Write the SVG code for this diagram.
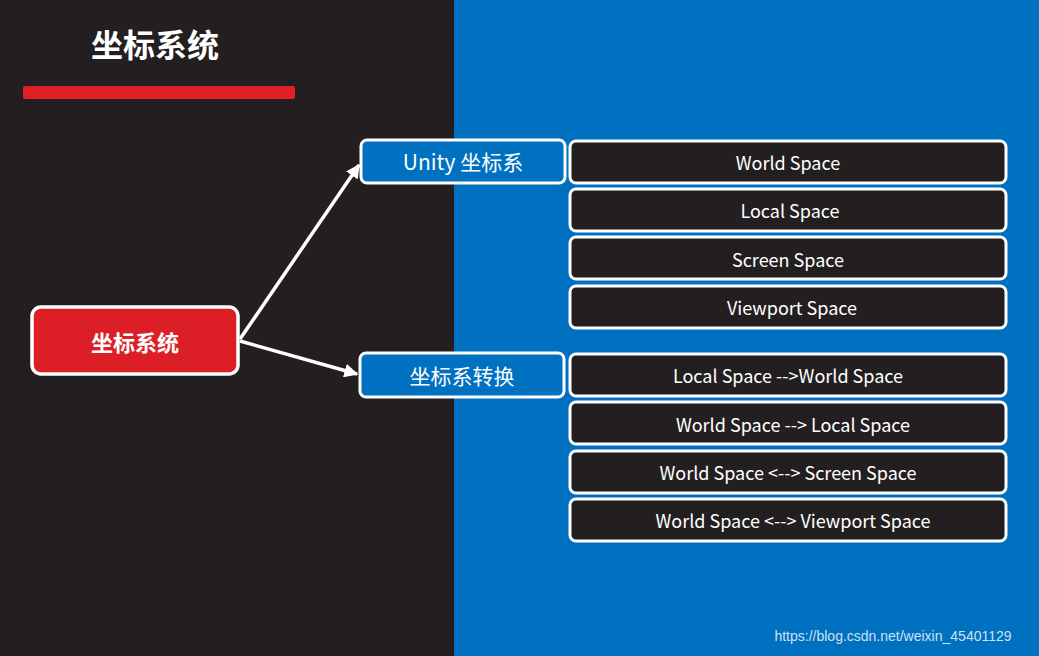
<svg xmlns="http://www.w3.org/2000/svg" width="1039" height="656" viewBox="0 0 1039 656">
<defs>
<style>
text{font-family:"Noto Sans CJK SC","Noto Sans",sans-serif;fill:#fff;text-anchor:middle;dominant-baseline:central}
.item rect{fill:#231F20;stroke:#fff;stroke-width:3}
.item text{font-size:18px}
.mid rect{fill:#0070C0;stroke:#fff;stroke-width:3}
.mid text{font-size:21px}
</style>
<marker id="ah" viewBox="0 0 10 10" refX="9" refY="5" markerWidth="4" markerHeight="4" orient="auto"><path d="M0,0L10,5L0,10z" fill="#fff"/></marker>
</defs>
<rect width="1039" height="656" fill="#231F20"/>
<rect x="454" width="585" height="656" fill="#0070C0"/>
<text x="155" y="43" style="font-size:32px;font-weight:bold">坐标系统</text>
<rect x="23" y="86" width="272" height="13" rx="2" fill="#E01E26"/>
<g id="connectors" stroke="#fff" stroke-width="3.5" fill="none">
<line x1="240" y1="339" x2="359" y2="165" marker-end="url(#ah)"/>
<line x1="240" y1="341" x2="357" y2="374" marker-end="url(#ah)"/>
</g>
<g id="root"><rect x="32" y="307" width="206" height="67" rx="9" fill="#DC1F26" stroke="#fff" stroke-width="3.5"/><text x="135" y="341" style="font-size:22px;font-weight:bold">坐标系统</text></g>
<g id="unity" class="mid"><rect x="361" y="140" width="204" height="43" rx="6"/><text x="463" y="161">Unity 坐标系</text></g>
<g id="convert" class="mid"><rect x="360" y="353" width="204" height="44" rx="6"/><text x="462" y="375">坐标系转换</text></g>
<g id="n1" class="item"><rect x="570" y="141" width="436" height="42" rx="6"/><text x="788" y="162">World Space</text></g>
<g id="n2" class="item"><rect x="570" y="189" width="436" height="42" rx="6"/><text x="790" y="210">Local Space</text></g>
<g id="n3" class="item"><rect x="570" y="237" width="436" height="42" rx="6"/><text x="788" y="259">Screen Space</text></g>
<g id="n4" class="item"><rect x="570" y="286" width="436" height="42" rx="6"/><text x="792" y="307">Viewport Space</text></g>
<g id="n5" class="item"><rect x="570" y="354" width="436" height="42" rx="6"/><text x="788" y="375">Local Space --&gt;World Space</text></g>
<g id="n6" class="item"><rect x="570" y="402" width="436" height="42" rx="6"/><text x="793" y="424">World Space --&gt; Local Space</text></g>
<g id="n7" class="item"><rect x="570" y="451" width="436" height="42" rx="6"/><text x="788" y="472">World Space &lt;--&gt; Screen Space</text></g>
<g id="n8" class="item"><rect x="570" y="499" width="436" height="42" rx="6"/><text x="793" y="520">World Space &lt;--&gt; Viewport Space</text></g>
<text x="893" y="636" style="font-family:'Liberation Sans',sans-serif;font-size:14px;fill:#cfe0f0">https://blog.csdn.net/weixin_45401129</text>
</svg>
